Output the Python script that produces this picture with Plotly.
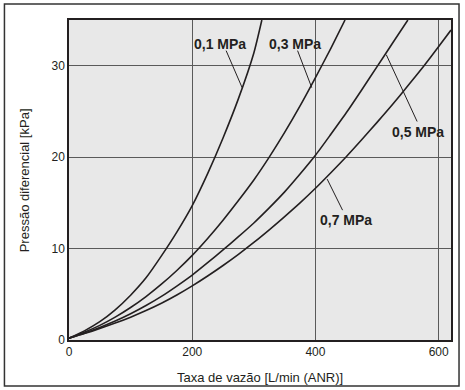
import plotly.graph_objects as go

# --- data ---
x_01 = [0, 25, 50, 75, 100, 125, 150, 175, 200, 225, 250, 275, 300, 313]
y_01 = [0.2, 1.0, 2.0, 3.3, 4.9, 6.8, 9.2, 11.8, 14.7, 18.2, 22.1, 26.4, 31.4, 35]

x_03 = [0, 25, 50, 75, 100, 125, 150, 175, 200, 225, 250, 275, 300, 325, 350, 375, 400, 425, 448]
y_03 = [0.2, 0.85, 1.6, 2.5, 3.55, 4.75, 6.1, 7.6, 9.25, 11.1, 13.1, 15.25, 17.5, 20.0, 22.7, 25.6, 28.7, 31.9, 35]

x_05 = [0, 25, 50, 75, 100, 125, 150, 175, 200, 225, 250, 275, 300, 325, 350, 375, 400, 425, 450, 475, 500, 525, 550]
y_05 = [0.2, 0.75, 1.37, 2.07, 2.87, 3.77, 4.77, 5.9, 7.1, 8.45, 9.85, 11.3, 12.8, 14.45, 16.2, 18.15, 20.2, 22.5, 24.85, 27.35, 29.9, 32.45, 35]

x_07 = [0, 25, 50, 75, 100, 125, 150, 175, 200, 225, 250, 275, 300, 325, 350, 375, 400, 425, 450, 475, 500, 525, 550, 575, 600, 620]
y_07 = [0.2, 0.7, 1.25, 1.85, 2.5, 3.22, 4.02, 4.92, 5.92, 7.0, 8.15, 9.37, 10.67, 12.05, 13.5, 15.0, 16.6, 18.3, 20.05, 21.9, 23.8, 25.75, 27.8, 29.9, 32.1, 33.9]

series_names = ["0,1 MPa", "0,3 MPa", "0,5 MPa", "0,7 MPa"]
x_ticks = [0, 200, 400, 600]
y_ticks = [0, 10, 20, 30]

INK = "#231f20"
FONT = "Liberation Sans, Arial, sans-serif"

fig = go.Figure()
for xs, ys, name in zip([x_01, x_03, x_05, x_07], [y_01, y_03, y_05, y_07], series_names):
    fig.add_trace(go.Scatter(x=xs, y=ys, mode="lines", name=name,
                             line=dict(color=INK, width=1.6, shape="spline", smoothing=0.6),
                             showlegend=False, hoverinfo="skip"))

# curve labels with leader lines
labels = [
    ("0,1 MPa", 245, 32.4, (255, 31.65, 281, 27.6)),
    ("0,3 MPa", 366, 32.4, (371, 31.65, 394, 27.6)),
    ("0,5 MPa", 566, 22.8, (565, 23.9, 515, 31.2)),
    ("0,7 MPa", 449, 13.1, (444, 14.2, 419, 17.6)),
]
for text, tx, ty, (lx0, ly0, lx1, ly1) in labels:
    fig.add_annotation(x=tx, y=ty, xref="x", yref="y", text="<b>%s</b>" % text,
                       showarrow=False, xanchor="center", yanchor="middle",
                       font=dict(family=FONT, size=14, color=INK))
    fig.add_shape(type="line", xref="x", yref="y", x0=lx0, y0=ly0, x1=lx1, y1=ly1,
                  line=dict(color=INK, width=1))

# axis titles
fig.add_annotation(x=0.5, y=-0.116, xref="paper", yref="paper",
                   text="Taxa de vazão [L/min (ANR)]", showarrow=False,
                   xanchor="center", yanchor="middle",
                   font=dict(family=FONT, size=13, color=INK))
fig.add_annotation(x=-0.117, y=0.5, xref="paper", yref="paper",
                   text="Pressão diferencial [kPa]", showarrow=False, textangle=-90,
                   xanchor="center", yanchor="middle",
                   font=dict(family=FONT, size=13, color=INK))

# outer frame around the whole figure
fig.add_shape(type="rect", xref="paper", yref="paper",
              x0=-0.169, x1=1.021, y0=-0.144, y1=1.05,
              line=dict(color="#333333", width=1.5), layer="below")

fig.update_xaxes(range=[0, 620], tickvals=x_ticks, ticktext=[str(v) for v in x_ticks],
                 showgrid=True, gridcolor="#5a5a5a", gridwidth=1.2,
                 showline=True, linecolor=INK, linewidth=1.5, mirror=True,
                 zeroline=False, ticks="", tickfont=dict(family=FONT, size=12, color=INK))
fig.update_yaxes(range=[0, 35], tickvals=y_ticks, ticktext=[str(v) for v in y_ticks],
                 showgrid=True, gridcolor="#5a5a5a", gridwidth=1.2,
                 showline=True, linecolor=INK, linewidth=1.5, mirror=True,
                 zeroline=False, ticks="", tickfont=dict(family=FONT, size=12, color=INK))

fig.update_layout(width=465, height=390,
                  margin=dict(l=69, r=12, t=20, b=50),
                  plot_bgcolor="#e8e8e8", paper_bgcolor="white",
                  font=dict(family=FONT, color=INK))

fig.write_html("out.html", config={"displayModeBar": False},
               post_script="document.body.style.margin='0';")
